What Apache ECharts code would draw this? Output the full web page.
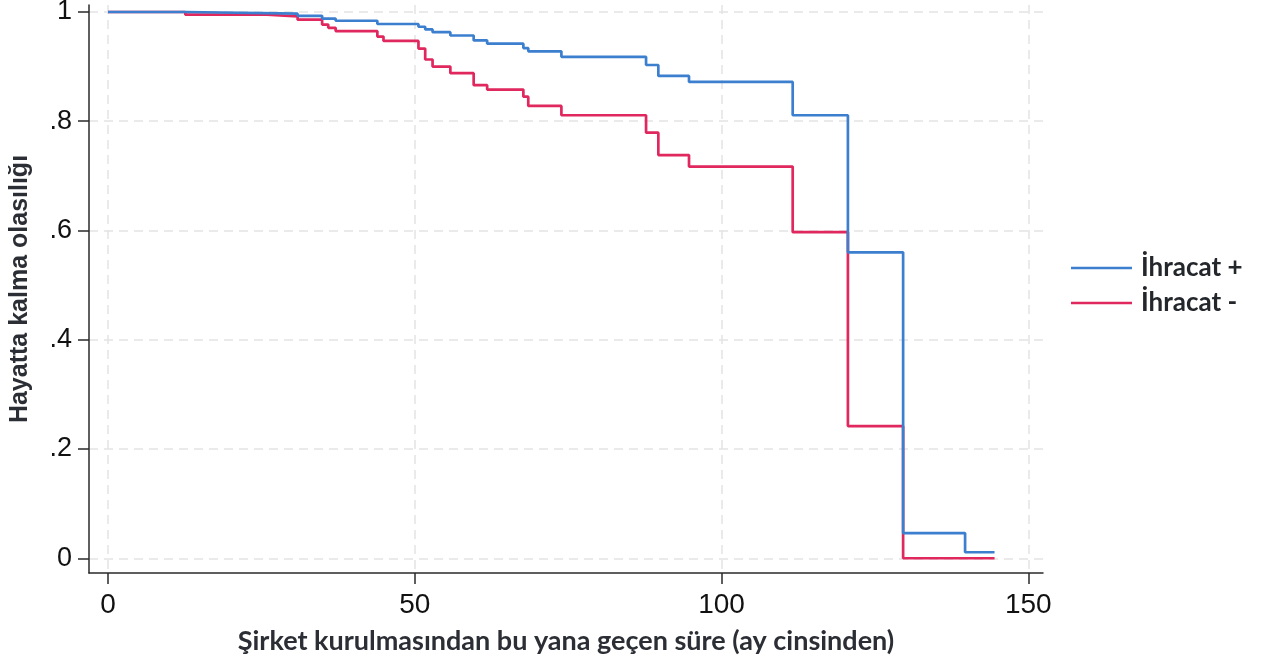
<!DOCTYPE html>
<html>
<head>
<meta charset="utf-8">
<script src="https://cdn.jsdelivr.net/npm/echarts@6/dist/echarts.min.js"></script>
<style>html,body{margin:0;padding:0;background:#fff}#c{width:1266px;height:664px}</style>
</head>
<body>
<div id="c"></div>
<script>
const seriesNames = ['İhracat +', 'İhracat -'];
const xTicks = [0, 50, 100, 150];
const yTicks = [0, 0.2, 0.4, 0.6, 0.8, 1];
const yTickLabels = ['0', '.2', '.4', '.6', '.8', '1'];
// time (months) at which each step begins
const tPlus  = [0, 12.6, 30.9, 34.9, 37.1, 43.9, 50.6, 51.7, 52.9, 55.8, 59.6, 61.8, 67.7, 68.5, 73.9, 87.7, 89.7, 94.7, 111.6, 120.6, 129.6, 139.7, 144.5];
const sPlus  = [1.0, 0.997, 0.993, 0.988, 0.984, 0.978, 0.973, 0.968, 0.963, 0.957, 0.948, 0.942, 0.934, 0.928, 0.918, 0.903, 0.883, 0.872, 0.811, 0.560, 0.046, 0.011, 0.011];
const tMinus = [0, 12.6, 25.9, 30.9, 34.9, 35.9, 37.1, 43.9, 44.9, 50.6, 51.7, 52.9, 55.8, 59.6, 61.8, 67.7, 68.5, 73.9, 87.7, 89.7, 94.7, 111.6, 120.6, 129.6, 144.5];
const sMinus = [1.0, 0.995, 0.992, 0.986, 0.977, 0.971, 0.965, 0.955, 0.947, 0.933, 0.913, 0.900, 0.888, 0.866, 0.858, 0.845, 0.828, 0.811, 0.779, 0.738, 0.717, 0.597, 0.242, 0.0, 0.0];

const zip = (a, b) => a.map((v, i) => [v, b[i]]);
const chart = echarts.init(document.getElementById('c'), null, {renderer: 'canvas'});
const gridLine = {show: true, lineStyle: {color: '#e3e3e3', width: 1.5, type: [9, 6]}};
const axisLine = {show: true, onZero: false, lineStyle: {color: '#2a2a2a', width: 1.5}};
chart.setOption({
  animation: false,
  backgroundColor: '#fff',
  grid: {left: 89, right: 223, top: 5, bottom: 91, containLabel: false, outerBoundsMode: 'none'},
  legend: {
    data: seriesNames,
    orient: 'vertical',
    left: 1066, top: 250,
    icon: 'rect',
    itemWidth: 61, itemHeight: 2.5, itemGap: 9,
    textStyle: {fontFamily: 'Lato', fontWeight: 'bold', fontSize: 26, color: '#23262b', padding: [0, 0, 0, 4]}
  },
  xAxis: {
    type: 'value', min: -3.1, max: 152.4,
    name: 'Şirket kurulmasından bu yana geçen süre (ay cinsinden)',
    nameLocation: 'middle', nameGap: 55,
    nameTextStyle: {fontFamily: 'Lato', fontWeight: 'bold', fontSize: 27, color: '#2b2e34'},
    axisLine: axisLine,
    axisTick: {show: true, length: 11, customValues: xTicks, lineStyle: {color: '#2a2a2a', width: 1.5}},
    axisLabel: {customValues: xTicks, fontFamily: 'Liberation Sans', fontSize: 28, color: '#111', margin: 18},
    splitLine: gridLine
  },
  yAxis: {
    type: 'value', min: -0.027, max: 1.0128,
    name: 'Hayatta kalma olasılığı',
    nameLocation: 'middle', nameGap: 56, nameRotate: 90,
    nameTextStyle: {fontFamily: 'Liberation Sans', fontWeight: 'bold', fontSize: 25, color: '#2b2e34'},
    axisLine: axisLine,
    axisTick: {show: true, length: 11, customValues: yTicks, lineStyle: {color: '#2a2a2a', width: 1.5}},
    axisLabel: {customValues: yTicks, fontFamily: 'Liberation Sans', fontSize: 27, color: '#111', margin: 17,
      formatter: v => { const i = yTicks.findIndex(t => Math.abs(t - v) < 1e-6); return i >= 0 ? yTickLabels[i] : ''; }},
    splitLine: gridLine
  },
  series: [
    {name: seriesNames[0], type: 'line', step: 'end', data: zip(tPlus, sPlus), symbol: 'none', showSymbol: false,
     lineStyle: {color: '#3d7fcf', width: 2.7}, itemStyle: {color: '#3d7fcf'}, z: 3},
    {name: seriesNames[1], type: 'line', step: 'end', data: zip(tMinus, sMinus), symbol: 'none', showSymbol: false,
     lineStyle: {color: '#e0275e', width: 2.7}, itemStyle: {color: '#e0275e'}, z: 2}
  ]
});
</script>
</body>
</html>
